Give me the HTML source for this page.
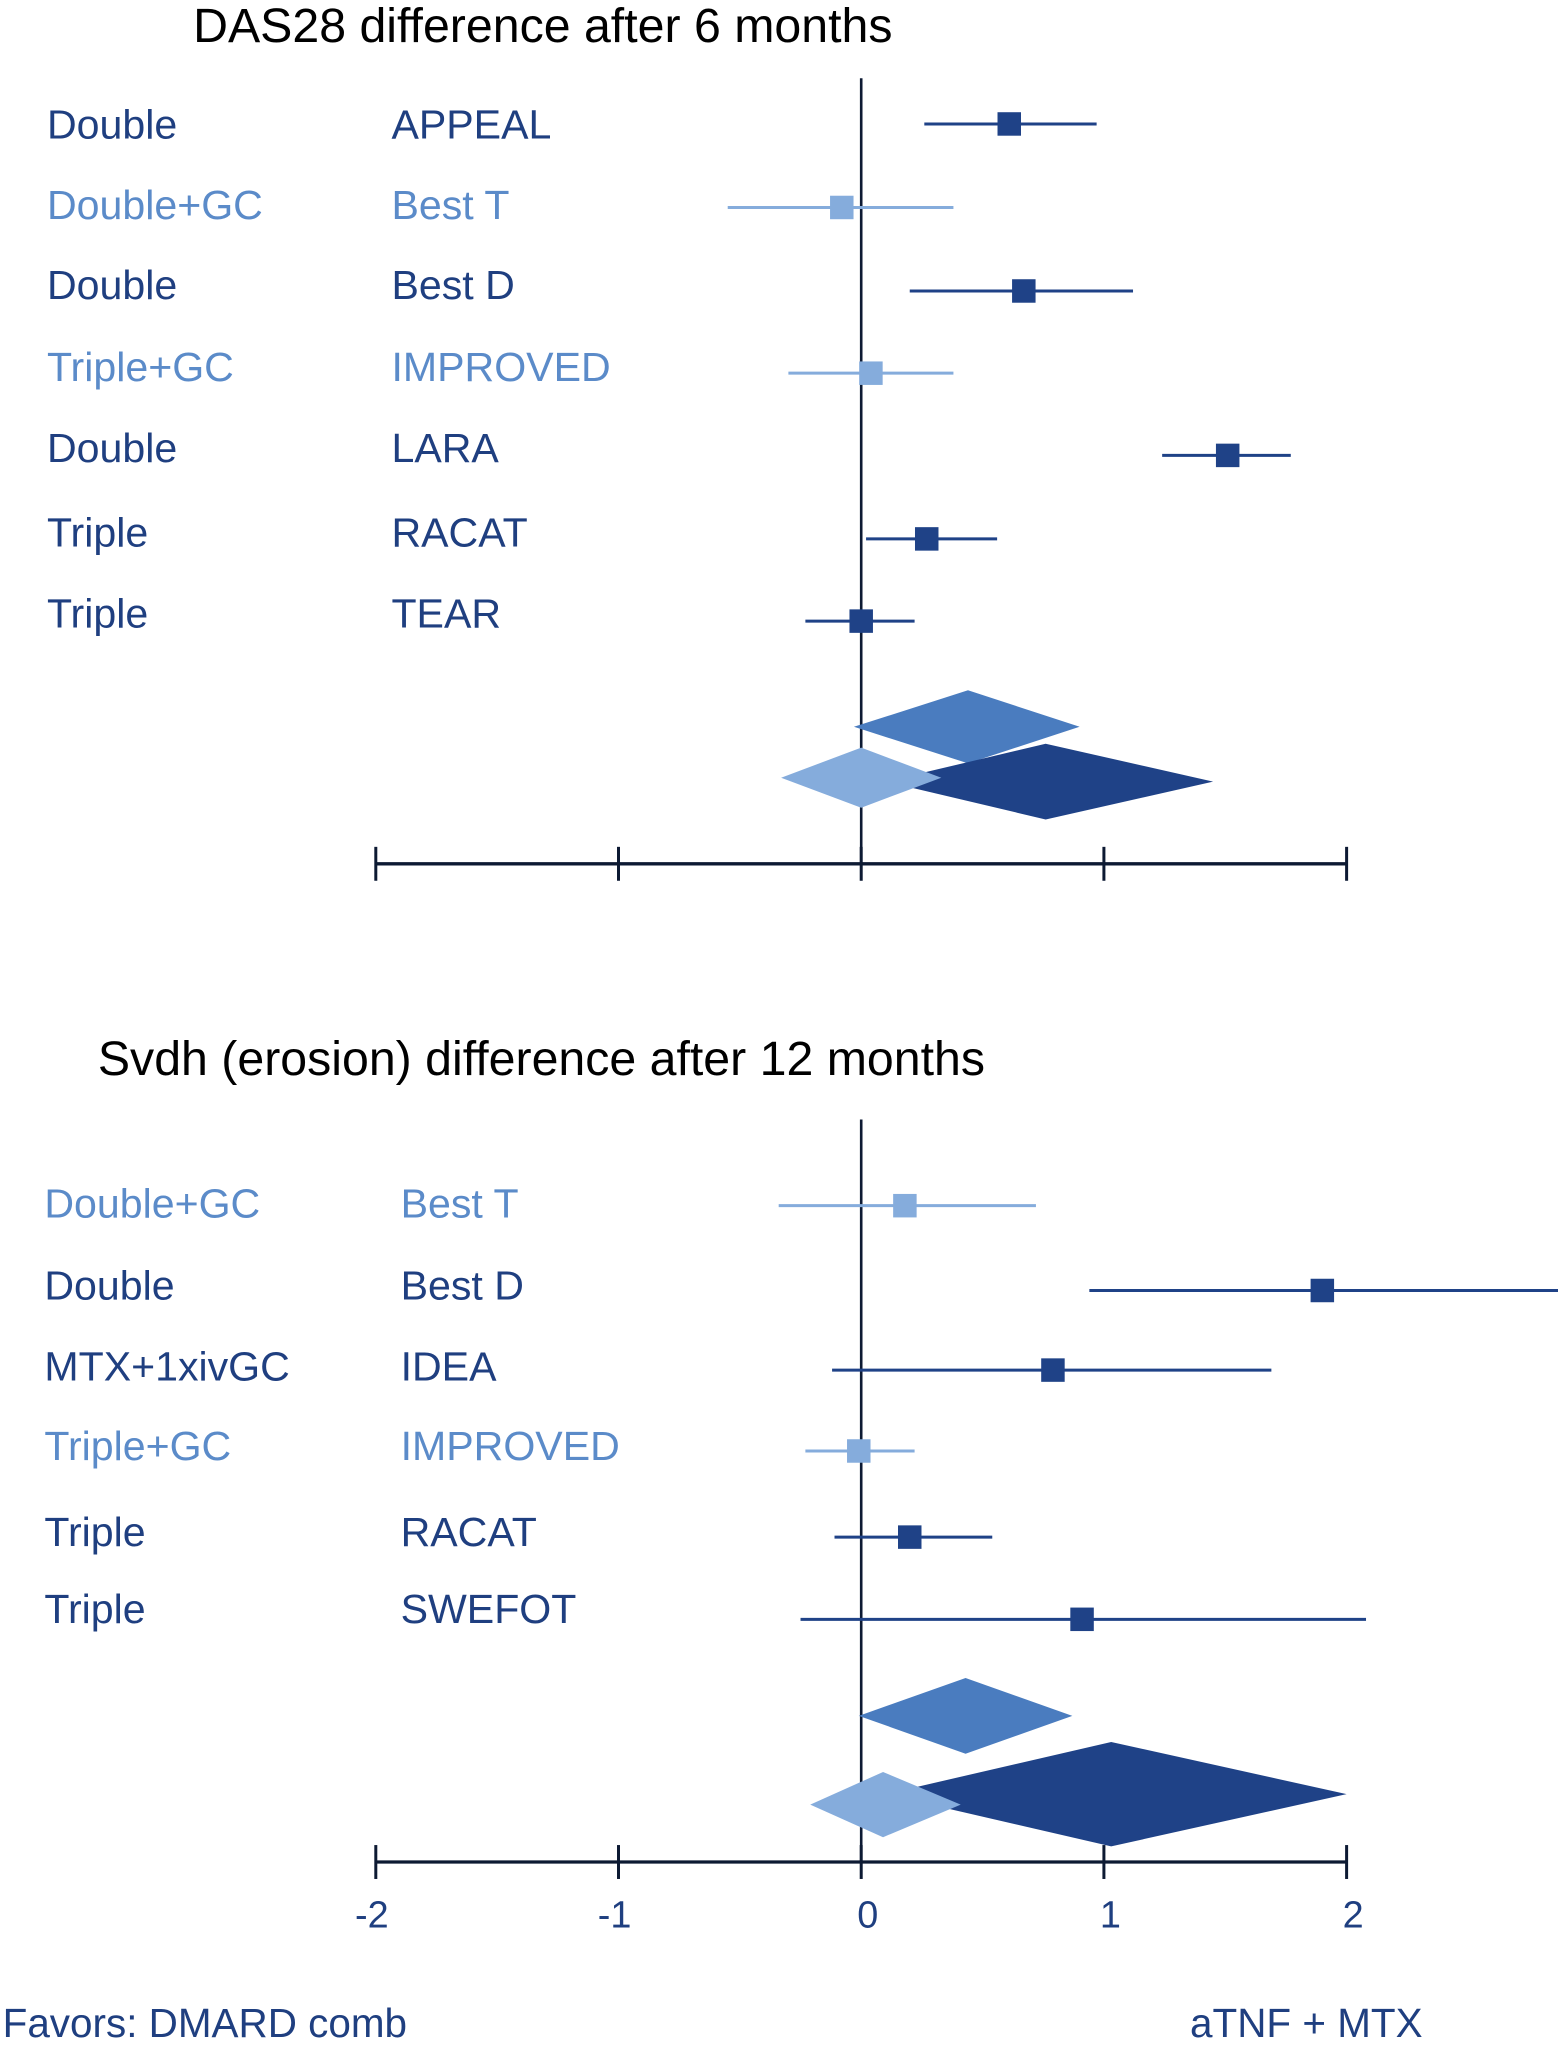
<!DOCTYPE html>
<html><head><meta charset="utf-8"><style>
html,body{margin:0;padding:0;background:#fff;}
svg{display:block;}
text{font-family:"Liberation Sans",sans-serif;}
</style></head><body>
<svg id="chart" width="1558" height="2046" viewBox="0 0 1194 1568" xmlns="http://www.w3.org/2000/svg">
<text x="148" y="32" font-size="37" fill="#000">DAS28 difference after 6 months</text>
<text x="75" y="824" font-size="37" fill="#000">Svdh (erosion) difference after 12 months</text>
<text x="2" y="1561" font-size="31" fill="#1f3f80">Favors: DMARD comb</text>
<text x="912" y="1561" font-size="31" fill="#1f3f80">aTNF + MTX</text>
<g id="g"></g>
</svg>
<script>
const DARK='#1f4287', LIGHT='#85acdc', MID='#4a7cbf', TXT_D='#1f3f80', TXT_L='#5b8bc9';
// Top panel data (DAS28)
const topGroups=['Double','Double+GC','Double','Triple+GC','Double','Triple','Triple'];
const topStudies=['APPEAL','Best T','Best D','IMPROVED','LARA','RACAT','TEAR'];
const topLight=[false,true,false,true,false,false,false];
const topEst=[0.61,-0.08,0.67,0.04,1.51,0.27,0.0];
const topLo=[0.26,-0.55,0.20,-0.30,1.24,0.02,-0.23];
const topHi=[0.97,0.38,1.12,0.38,1.77,0.56,0.22];
const topDiaEst=[0.44,0.76,0.0];
const topDiaLo=[-0.03,0.10,-0.33];
const topDiaHi=[0.90,1.45,0.33];
// Bottom panel data (Svdh)
const botGroups=['Double+GC','Double','MTX+1xivGC','Triple+GC','Triple','Triple'];
const botStudies=['Best T','Best D','IDEA','IMPROVED','RACAT','SWEFOT'];
const botLight=[true,false,false,true,false,false];
const botEst=[0.18,1.90,0.79,-0.01,0.20,0.91];
const botLo=[-0.34,0.94,-0.12,-0.23,-0.11,-0.25];
const botHi=[0.72,2.90,1.69,0.22,0.54,2.08];
const botDiaEst=[0.43,1.03,0.09];
const botDiaLo=[-0.01,0.10,-0.21];
const botDiaHi=[0.87,2.00,0.41];
const ticks=[-2,-1,0,1,2];
const tickLabels=['-2','-1','0','1','2'];

const NS='http://www.w3.org/2000/svg';
const g=document.getElementById('g');
const x=v=>660+v*186;
function mk(tag,attrs){const e=document.createElementNS(NS,tag);for(const k in attrs)e.setAttribute(k,attrs[k]);g.appendChild(e);return e;}

function panel(p){
  const L=mk('line',{x1:660,x2:660,y1:p.zTop,y2:p.axisY,stroke:'#0d1a33','stroke-width':2});
  
  
  p.groups.forEach((gr,i)=>{
    const y=p.rowY[i], col=p.light[i]?LIGHT:DARK, tc=p.light[i]?TXT_L:TXT_D;
    const t1=mk('text',{x:p.c1,y:p.textY[i]+11,'font-size':31.5,fill:tc});t1.textContent=gr;
    
    
    const t2=mk('text',{x:p.c2,y:p.textY[i]+11,'font-size':31.5,fill:tc});t2.textContent=p.studies[i];
    
    
    const ci=mk('line',{x1:x(p.lo[i]),x2:Math.min(x(p.hi[i]),1194),y1:y,y2:y,stroke:col,'stroke-width':2.3});
    
    
    const sq=mk('rect',{x:x(p.est[i])-9,y:y-9,width:18,height:18,fill:col});
    
    
  });
  const dcols=[MID,DARK,LIGHT];
  [0,1,2].forEach(k=>{
    const cy=p.diaY[k],h=p.diaH[k];
    const d=mk('polygon',{points:`${x(p.dlo[k])},${cy} ${x(p.dest[k])},${cy-h} ${x(p.dhi[k])},${cy} ${x(p.dest[k])},${cy+h}`,fill:dcols[k]});
    
    
  });
  const ax=mk('line',{x1:x(-2),x2:x(2),y1:p.axisY,y2:p.axisY,stroke:'#0d1a33','stroke-width':2.5});
  
  
  ticks.forEach((v,i)=>{
    const tk=mk('line',{x1:x(v),x2:x(v),y1:p.axisY-13,y2:p.axisY+13,stroke:'#0d1a33','stroke-width':2.3});
    
    
    if(p.labels){
      const tl=mk('text',{x:x(v)+(v<0?-3:5),y:p.axisY+50,'font-size':29,fill:TXT_D,'text-anchor':'middle'});tl.textContent=tickLabels[i];
      
      
    }
  });
}
panel({name:'das28',zTop:60,axisY:662,groups:topGroups,studies:topStudies,light:topLight,est:topEst,lo:topLo,hi:topHi,
  rowY:[95,159,223,286,349,413,476],textY:[95,157,218,281,343,408,470],c1:36,c2:300,
  dest:topDiaEst,dlo:topDiaLo,dhi:topDiaHi,diaY:[557,599,596],diaH:[28,29,23],labels:false});
panel({name:'svdh',zTop:858,axisY:1427,groups:botGroups,studies:botStudies,light:botLight,est:botEst,lo:botLo,hi:botHi,
  rowY:[924,989,1050,1112,1178,1241],textY:[922,985,1047,1108,1174,1233],c1:34,c2:307,
  dest:botDiaEst,dlo:botDiaLo,dhi:botDiaHi,diaY:[1315,1375,1383],diaH:[29,40,25],labels:true});
</script>
</body></html>
